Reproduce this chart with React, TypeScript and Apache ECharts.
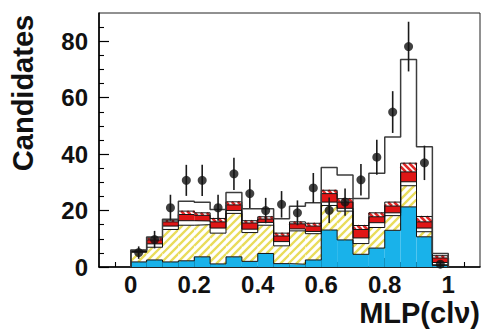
import React, { useEffect, useRef } from "react";
import * as echarts from "echarts";

// ---- data ----
const binLow = [0, 0.05, 0.1, 0.15, 0.2, 0.25, 0.3, 0.35, 0.4, 0.45, 0.5, 0.55, 0.6, 0.65, 0.7, 0.75, 0.8, 0.85, 0.9, 0.95];
const BIN_WIDTH = 0.05;

const cyanComp = [1.8, 2.5, 1.8, 2.2, 3.6, 1.1, 3.6, 2.0, 4.8, 1.2, 1.0, 2.5, 13.1, 9.6, 4.5, 6.7, 13.0, 21.3, 10.7, 0.5];
const yellowComp = [3.4, 4.5, 11.5, 12.6, 11.4, 10.9, 15.4, 10.2, 10.0, 6.3, 11.8, 9.3, 8.7, 10.2, 3.8, 7.3, 5.2, 7.5, 1.8, 0.3];
const whiteComp = [0.3, 1.2, 1.2, 1.6, 1.3, 1.8, 1.0, 1.2, 1.0, 1.5, 0.7, 0.8, 1.2, 1.0, 2.0, 1.7, 1.0, 1.4, 1.3, 0.8];
const redComp = [0.2, 1.4, 1.5, 2.2, 2.0, 2.2, 2.0, 2.2, 1.2, 2.0, 1.8, 1.9, 3.0, 2.2, 3.0, 2.1, 2.4, 3.5, 2.2, 1.6];
const redHatchComp = [0.2, 0.7, 0.6, 1.2, 0.9, 1.2, 1.1, 0.8, 0.8, 1.0, 0.7, 1.0, 1.2, 1.2, 1.4, 1.4, 1.4, 3.1, 1.9, 0.8];
const totalExpected = [6.0, 10.6, 16.9, 23.3, 22.9, 20.4, 26.4, 20.6, 20.6, 17.1, 21.5, 22.8, 35.3, 32.6, 24.3, 33.2, 46.1, 73.5, 42.6, 4.8];
const dataCounts = [5.1, 9.7, 21.0, 30.7, 30.7, 21.0, 33.0, 26.0, 20.0, 22.2, 19.2, 28.0, 20.1, 23.0, 30.9, 38.9, 54.9, 78.1, 36.9, 1.0];
const dataErrors = [2.2, 3.1, 4.6, 5.5, 5.5, 4.6, 5.7, 5.1, 4.5, 4.7, 4.4, 5.3, 4.5, 4.8, 5.6, 6.2, 7.4, 8.8, 6.1, 1.0];

const xMajorTicks = [0, 0.2, 0.4, 0.6, 0.8, 1];
const xMinorTicks = [-0.05, 0.05, 0.1, 0.15, 0.25, 0.3, 0.35, 0.45, 0.5, 0.55, 0.65, 0.7, 0.75, 0.85, 0.9, 0.95, 1.05];
const yMajorTicks = [0, 20, 40, 60, 80];
const yMinorTicks = [5, 10, 15, 25, 30, 35, 45, 50, 55, 65, 70, 75, 85];

const X_TITLE = "MLP(clν)";
const Y_TITLE = "Candidates";

// ---- styles ----
const FONT = '"Liberation Sans", Arial, Helvetica, sans-serif';

type Hatch = { dir: "/" | "\\"; color: string; width: number; period: number };
type Comp = { values: number[]; fill: string; hatch?: Hatch };

const components: Comp[] = [
  { values: cyanComp, fill: "#19b2ea" },
  { values: yellowComp, fill: "#ffffff", hatch: { dir: "/", color: "#e9dc5a", width: 2.4, period: 8 } },
  { values: whiteComp, fill: "#ffffff" },
  { values: redComp, fill: "#e01616" },
  { values: redHatchComp, fill: "#ffffff", hatch: { dir: "\\", color: "#e02828", width: 2.6, period: 6 } },
];

function hatchLines(xl: number, xr: number, yt: number, yb: number, h: Hatch) {
  const out: any[] = [];
  const p = h.period;
  if (h.dir === "/") {
    const cMin = Math.floor((xl + yt) / p) * p;
    for (let c = cMin; c <= xr + yb; c += p) {
      const xs = Math.max(xl, c - yb);
      const xe = Math.min(xr, c - yt);
      if (xe > xs) {
        out.push({ type: "line", silent: true, shape: { x1: xs, y1: c - xs, x2: xe, y2: c - xe }, style: { stroke: h.color, lineWidth: h.width } });
      }
    }
  } else {
    const cMin = Math.floor((yt - xr) / p) * p;
    for (let c = cMin; c <= yb - xl; c += p) {
      const xs = Math.max(xl, yt - c);
      const xe = Math.min(xr, yb - c);
      if (xe > xs) {
        out.push({ type: "line", silent: true, shape: { x1: xs, y1: xs + c, x2: xe, y2: xe + c }, style: { stroke: h.color, lineWidth: h.width } });
      }
    }
  }
  return out;
}

function cumulative(upTo: number): number[] {
  return binLow.map((_, i) => {
    let s = 0;
    for (let k = 0; k <= upTo; k++) s += components[k].values[i];
    return s;
  });
}

function stepData(levels: number[]) {
  const last = binLow.length - 1;
  const end = binLow[last] + BIN_WIDTH;
  return [[binLow[0], 0], ...binLow.map((lo, i) => [lo, levels[i]]), [end, levels[last]], [end, 0]];
}

export default function App() {
  const ref = useRef<HTMLDivElement>(null);
  useEffect(() => {
    if (!ref.current) return;
    const chart = echarts.init(ref.current, undefined, { renderer: "svg" });

    const stackRender = (_params: any, api: any) => {
      const i = api.value(1) as number;
      const lo = binLow[i];
      const hi = lo + BIN_WIDTH;
      const xl = api.coord([lo, 0])[0];
      const xr = api.coord([hi, 0])[0];
      const children: any[] = [];
      let base = 0;
      for (const comp of components) {
        const top = base + comp.values[i];
        const yb = api.coord([lo, base])[1];
        const yt = api.coord([lo, top])[1];
        if (yb - yt > 0.01) {
          children.push({ type: "rect", silent: true, shape: { x: xl, y: yt, width: xr - xl, height: yb - yt }, style: { fill: comp.fill } });
          if (comp.hatch) children.push(...hatchLines(xl, xr, yt, yb, comp.hatch));
        }
        base = top;
      }
      return { type: "group", children };
    };

    const errRender = (_params: any, api: any) => {
      const x = api.value(0);
      const y = api.value(1);
      const e = api.value(2);
      const p1 = api.coord([x, Math.max(0, y - e)]);
      const p2 = api.coord([x, y + e]);
      return { type: "line", shape: { x1: p1[0], y1: p1[1], x2: p2[0], y2: p2[1] }, style: { stroke: "#1a1a1a", lineWidth: 1.6 } };
    };

    const boundarySeries = components.map((_, k) => ({
      type: "line",
      step: "end",
      data: stepData(cumulative(k)),
      symbol: "none",
      silent: true,
      lineStyle: { color: "#111", width: 1 },
      z: 3,
    }));

    const axisLabelStyle = { fontFamily: FONT, fontWeight: "bold", fontSize: 24, color: "#111" };

    chart.setOption({
      animation: false,
      grid: { left: 99, top: 13, width: 381, height: 254, show: true, borderColor: "#222", borderWidth: 1, backgroundColor: "#fff" },
      xAxis: [
        {
          type: "value", min: -0.1, max: 1.1, position: "bottom",
          axisLine: { show: true, onZero: false, lineStyle: { color: "#000", width: 1.6 } },
          axisTick: { show: true, inside: true, length: 9, customValues: xMajorTicks, lineStyle: { color: "#000", width: 1.2 } },
          axisLabel: { show: true, customValues: xMajorTicks, margin: 5, ...axisLabelStyle, formatter: (v: number) => String(v) },
          splitLine: { show: false },
        },
        {
          type: "value", min: -0.1, max: 1.1, position: "bottom",
          axisLine: { show: false, onZero: false },
          axisTick: { show: true, inside: true, length: 5, customValues: xMinorTicks, lineStyle: { color: "#000", width: 1.1 } },
          axisLabel: { show: false },
          splitLine: { show: false },
        },
      ],
      yAxis: [
        {
          type: "value", min: 0, max: 90, position: "left",
          axisLine: { show: true, onZero: false, lineStyle: { color: "#000", width: 1.6 } },
          axisTick: { show: true, inside: true, length: 10, customValues: yMajorTicks, lineStyle: { color: "#000", width: 1.2 } },
          axisLabel: { show: true, customValues: yMajorTicks, margin: 11, ...axisLabelStyle },
          splitLine: { show: false },
        },
        {
          type: "value", min: 0, max: 90, position: "left",
          axisLine: { show: false, onZero: false },
          axisTick: { show: true, inside: true, length: 5, customValues: yMinorTicks, lineStyle: { color: "#000", width: 1.1 } },
          axisLabel: { show: false },
          splitLine: { show: false },
        },
      ],
      series: [
        {
          type: "custom",
          renderItem: stackRender,
          data: binLow.map((lo, i) => [lo, i]),
          encode: { x: 0 },
          silent: true,
          z: 2,
        },
        ...boundarySeries,
        {
          type: "line",
          step: "end",
          data: stepData(totalExpected),
          symbol: "none",
          silent: true,
          lineStyle: { color: "#3c3c3c", width: 1.5 },
          z: 4,
        },
        {
          type: "custom",
          renderItem: errRender,
          data: binLow.map((lo, i) => [lo + BIN_WIDTH / 2, dataCounts[i], dataErrors[i]]),
          encode: { x: 0, y: 1 },
          silent: true,
          z: 5,
        },
        {
          type: "scatter",
          data: binLow.map((lo, i) => [lo + BIN_WIDTH / 2, dataCounts[i]]),
          symbol: "circle",
          symbolSize: 9,
          itemStyle: { color: "#111" },
          silent: true,
          z: 6,
        },
      ],
      graphic: [
        {
          type: "text",
          x: 23,
          y: 93,
          rotation: Math.PI / 2,
          style: { text: Y_TITLE, font: `bold 29px ${FONT}`, fill: "#111", align: "center", verticalAlign: "middle" },
        },
        {
          type: "text",
          x: 480,
          y: 313,
          style: { text: X_TITLE, font: `bold 29px ${FONT}`, fill: "#111", align: "right", verticalAlign: "middle" },
        },
      ],
    });
    return () => chart.dispose();
  }, []);
  return (
    <div style={{ position: "fixed", left: 0, top: 0, width: 482, height: 331, background: "#fff" }}>
      <div ref={ref} style={{ width: 482, height: 331 }} />
    </div>
  );
}
